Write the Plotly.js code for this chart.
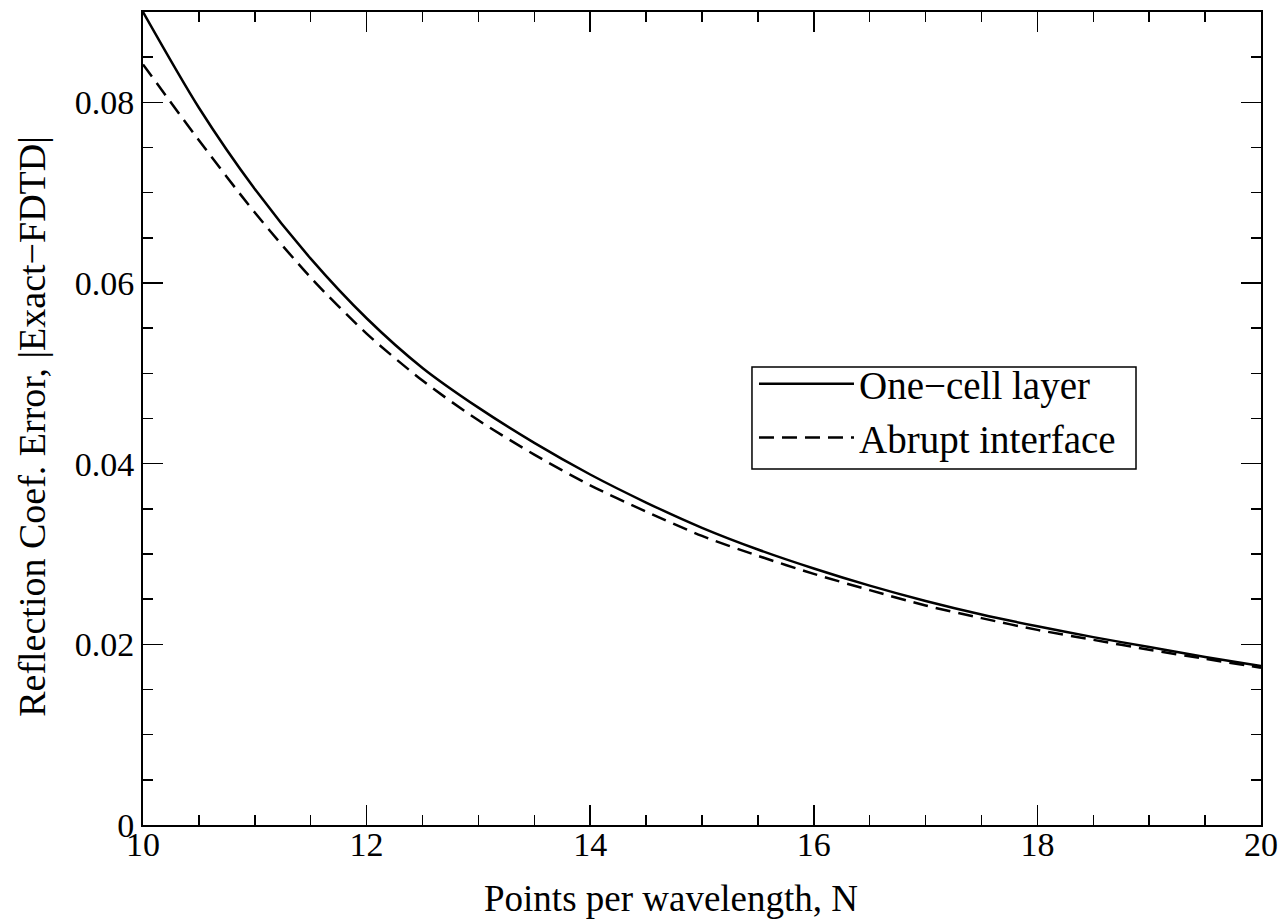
<!DOCTYPE html>
<html>
<head>
<meta charset="utf-8">
<script src="https://cdn.plot.ly/plotly-3.0.1.min.js"></script>
<style>html,body{margin:0;padding:0;background:#fff;}#chart{width:1288px;height:920px;}</style>
</head>
<body>
<div id="chart"></div>
<script>
// Points per wavelength
const pointsN = [10, 10.5, 11, 11.5, 12, 12.5, 13, 13.5, 14, 14.5, 15, 15.5, 16, 16.5, 17, 17.5, 18, 18.5, 19, 19.5, 20];
// One-cell layer error
const oneCellLayer = [0.0900, 0.0794, 0.0704, 0.0627, 0.0561, 0.0506, 0.0462, 0.0423, 0.0388, 0.0357, 0.0329, 0.0305, 0.0284, 0.0265, 0.0248, 0.0233, 0.0220, 0.0208, 0.0197, 0.0186, 0.0176];
// Abrupt interface error
const abruptInterface = [0.0842, 0.0758, 0.0678, 0.0606, 0.0544, 0.0492, 0.0448, 0.0410, 0.0376, 0.0347, 0.0320, 0.0298, 0.0278, 0.0260, 0.0243, 0.0229, 0.0216, 0.0205, 0.0194, 0.0184, 0.0174];
const seriesNames = ["One\u2212cell layer", "Abrupt interface"];
const xTitle = "Points per wavelength, N";
const yTitle = "Reflection Coef. Error, |Exact\u2212FDTD|";

const font = {family: "Liberation Serif, Times New Roman, serif", color: "#000"};

const traces = [
  {x: pointsN, y: oneCellLayer, name: seriesNames[0], mode: "lines",
   line: {color: "#000", width: 2.5, shape: "spline", smoothing: 0.8, dash: "solid"}},
  {x: pointsN, y: abruptInterface, name: seriesNames[1], mode: "lines",
   line: {color: "#000", width: 2.5, shape: "spline", smoothing: 0.8, dash: "15px,8px"}}
];

const axisCommon = {
  showgrid: false, zeroline: false, showline: true, linecolor: "#000", linewidth: 2,
  mirror: "ticks", ticks: "inside", ticklen: 20, tickwidth: 1.5, tickcolor: "#000",
  tickfont: Object.assign({size: 34}, font)
};

const layout = {
  width: 1288, height: 920,
  margin: {l: 143, r: 27, t: 12, b: 95},
  paper_bgcolor: "#fff", plot_bgcolor: "#fff",
  font: font,
  showlegend: true,
  legend: {x: 0.5465, y: 0.5818, xanchor: "left", yanchor: "top",
           borderwidth: 0, bgcolor: "rgba(0,0,0,0)",
           font: Object.assign({size: 39}, font), tracegroupgap: 0, itemwidth: 95},
  xaxis: Object.assign({}, axisCommon, {
    range: [10, 20], dtick: 2, tick0: 10, ticklabelstandoff: -12,
    minor: {dtick: 0.5, ticklen: 10, tickwidth: 1.5, tickcolor: "#000", ticks: "inside", showgrid: false}
  }),
  yaxis: Object.assign({}, axisCommon, {
    range: [0, 0.09], dtick: 0.02, tick0: 0,
    minor: {dtick: 0.005, ticklen: 10, tickwidth: 1.5, tickcolor: "#000", ticks: "inside", showgrid: false}
  }),
  shapes: [
    {type: "rect", xref: "paper", yref: "paper", x0: 0.5447, x1: 0.8882, y0: 0.4379, y1: 0.5633,
     line: {color: "#000", width: 1.5}, fillcolor: "rgba(0,0,0,0)", layer: "above"}
  ],
  annotations: [
    {text: xTitle, xref: "paper", yref: "paper", x: 0.472, y: -0.091,
     xanchor: "center", yanchor: "middle", showarrow: false,
     font: Object.assign({size: 37}, font)},
    {text: yTitle, xref: "paper", yref: "paper", x: -0.1, y: 0.49, textangle: -90,
     xanchor: "center", yanchor: "middle", showarrow: false,
     font: Object.assign({size: 38}, font)}
  ]
};

Plotly.newPlot("chart", traces, layout, {staticPlot: true, displayModeBar: false});
</script>
</body>
</html>
